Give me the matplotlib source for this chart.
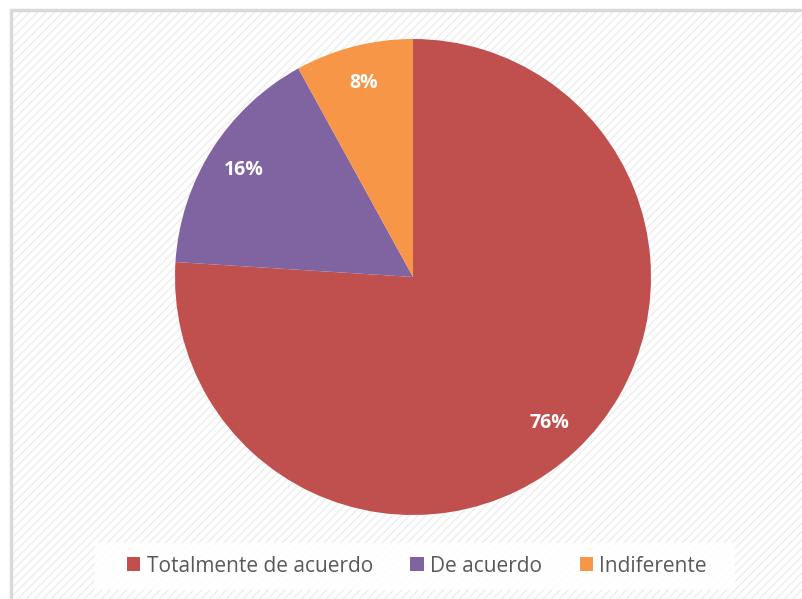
import matplotlib.pyplot as plt
from matplotlib.patches import Rectangle, Patch

labels = ["Totalmente de acuerdo", "De acuerdo", "Indiferente"]
values = [76, 16, 8]
colors = ["#C0504D", "#8064A2", "#F79646"]

W, H = 803, 599
fig = plt.figure(figsize=(W / 100, H / 100), dpi=100)
fig.patch.set_facecolor("white")

# chart area with diagonal hatch background
bg = fig.add_axes([0, 0, 1, 1])
bg.set_xlim(0, W)
bg.set_ylim(H, 0)
bg.axis("off")
bg.add_patch(Rectangle((11, 10), W, H, facecolor="white", edgecolor="none"))
bg.add_patch(Rectangle((11, 10), W, H, facecolor="none", edgecolor="#EDEDED",
                       hatch="////", linewidth=0))
bg.plot([11, 11, W], [H, 10, 10], color="#D9D9D9", linewidth=2.5)
bg.add_patch(Rectangle((95, 543), 640, 47, facecolor="white", edgecolor="none", alpha=0.9))

# pie
cx, cy, r = 413, 277, 238
ax = fig.add_axes([(cx - r) / W, 1 - (cy + r) / H, 2 * r / W, 2 * r / H])
wedges, texts, autotexts = ax.pie(
    values, colors=colors, startangle=90, counterclock=False,
    autopct="%d%%", pctdistance=0.84, radius=1,
    textprops=dict(color="white", fontsize=14, fontweight="bold", family="Open Sans"),
)
ax.set_xlim(-1, 1)
ax.set_ylim(-1, 1)
ax.set_aspect("equal")

handles = [Patch(facecolor=c, edgecolor="none") for c in colors]
fig.legend(handles, labels, loc="center", bbox_to_anchor=(417 / W, 1 - 566 / H),
           ncol=3, frameon=False, labelcolor="#595959",
           prop=dict(family="Open Sans", size=15), handlelength=0.65, handleheight=0.65,
           handletextpad=0.3, columnspacing=1.8)

fig.savefig("out.png", dpi=100)
